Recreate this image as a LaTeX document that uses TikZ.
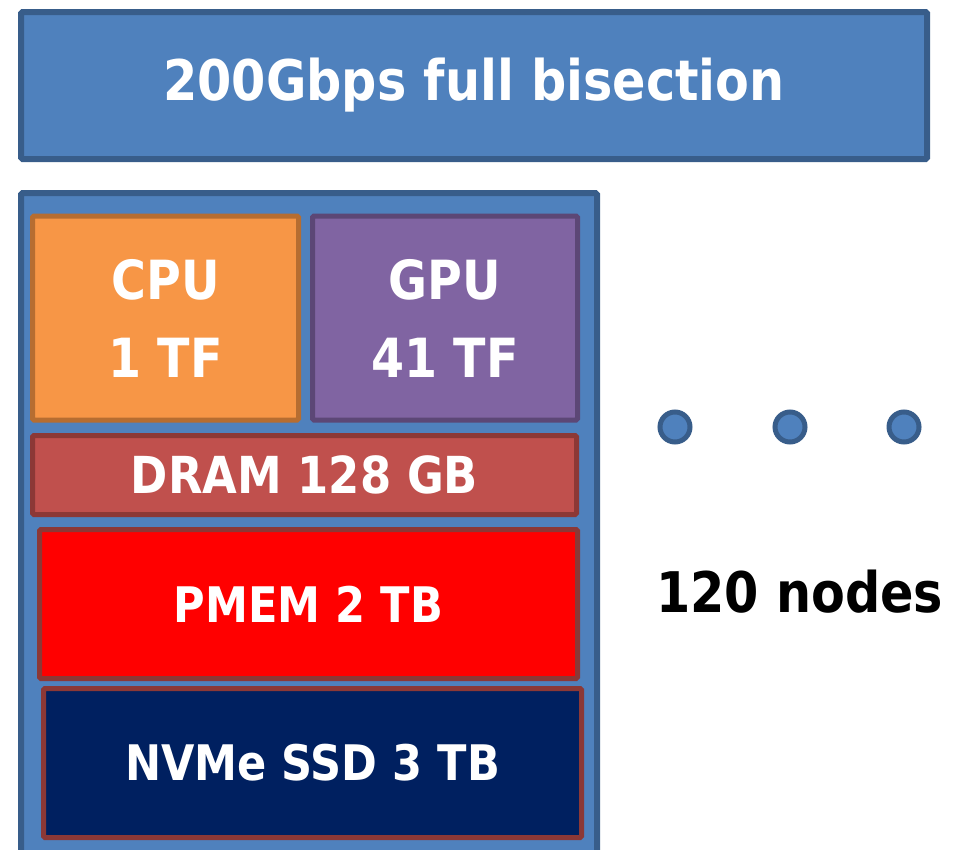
\documentclass[tikz,border=0pt]{standalone}
\usepackage{fontspec}
\setmainfont[FakeStretch=0.88]{DejaVu Sans}
\begin{document}
\begin{tikzpicture}[x=1pt,y=-1pt,
  box/.style={draw, rectangle, rounded corners=1.5pt, inner sep=0pt, text=white,
    font=\bfseries, align=center},
  bigtxt/.style={font=\fontsize{56}{60}\selectfont\bfseries},
  chiptxt/.style={font=\fontsize{54}{78}\selectfont\bfseries},
  memtxt/.style={font=\fontsize{49}{56}\selectfont\bfseries},
  dot/.style={draw=netedge, fill=netblue, circle, line width=5pt, minimum size=30pt, inner sep=0pt}
]
\definecolor{netblue}{HTML}{4F81BD}
\definecolor{netedge}{HTML}{385D8A}
\definecolor{cpufill}{HTML}{F79646}
\definecolor{cpuedge}{HTML}{B66D31}
\definecolor{gpufill}{HTML}{8064A2}
\definecolor{gpuedge}{HTML}{5C4776}
\definecolor{dramfill}{HTML}{C0504D}
\definecolor{memedge}{HTML}{8C3836}
\definecolor{pmemfill}{HTML}{FF0000}
\definecolor{ssdfill}{HTML}{002060}

\useasboundingbox (0,0) rectangle (955,849);

% network fabric
\node[box, draw=netedge, fill=netblue, line width=6pt,
  minimum width=906pt, minimum height=147pt, bigtxt] (net) at (474,85.5)
  {200Gbps full bisection};

% one compute node (runs past the lower edge)
\node[box, draw=netedge, fill=netblue, line width=6pt,
  minimum width=576pt, minimum height=680pt] (node) at (309,533) {};

% processors
\node[box, draw=cpuedge, fill=cpufill, line width=5pt,
  minimum width=266pt, minimum height=204pt, chiptxt] (cpu) at (165.5,318)
  {CPU\\1 TF};
\node[box, draw=gpuedge, fill=gpufill, line width=5pt,
  minimum width=265pt, minimum height=204pt, chiptxt] (gpu) at (445,318)
  {GPU\\41 TF};

% memory and storage
\node[box, draw=memedge, fill=dramfill, line width=5pt,
  minimum width=544pt, minimum height=79pt, memtxt, font=\fontsize{51}{56}\selectfont\bfseries] (dram) at (304.5,475)
  {DRAM 128 GB};
\node[box, draw=memedge, fill=pmemfill, line width=5pt,
  minimum width=538pt, minimum height=149pt, memtxt] (pmem) at (308.5,604)
  {PMEM 2 TB};
\node[box, draw=memedge, fill=ssdfill, line width=5pt,
  minimum width=538pt, minimum height=149pt, memtxt] (ssd) at (312.5,763)
  {NVMe SSD 3 TB};

% ellipsis for the other nodes
\node[dot] (d1) at (675,427) {};
\node[dot] (d2) at (790,427) {};
\node[dot] (d3) at (904,427) {};

\node[anchor=base west, inner sep=0pt, text=black,
  font=\fontsize{56}{60}\selectfont\bfseries] (count) at (656,612) {120 nodes};
\end{tikzpicture}
\end{document}
